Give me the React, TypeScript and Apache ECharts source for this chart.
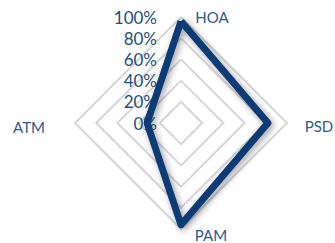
import React, { useEffect, useRef } from "react";
import * as echarts from "echarts";

const indicators = ["HOA", "ATM", "PAM", "PSD"];
const values = [96, 32, 96, 82];
const maxValue = 100;
const tickInterval = 20;

export default function App() {
  const ref = useRef<HTMLDivElement>(null);
  useEffect(() => {
    document.body.style.margin = "0";
    if (!ref.current) return;
    const chart = echarts.init(ref.current, null, { renderer: "svg" });
    const font = "Lato, 'Open Sans', sans-serif";
    chart.setOption({
      animation: false,
      radar: {
        center: [181, 123],
        radius: 106,
        shape: "polygon",
        startAngle: 90,
        splitNumber: maxValue / tickInterval,
        axisName: { show: false },
        axisLine: { show: false },
        axisTick: { show: false },
        splitArea: { show: false },
        splitLine: { lineStyle: { color: "#d6d6d6", width: 2 } },
        axisLabel: { show: false },
        indicator: indicators.map((name, i) => ({
          name,
          min: 0,
          max: maxValue,
          axisLabel:
            i === 0
              ? {
                  show: true,
                  margin: 24,
                  color: "#1f4e79",
                  fontSize: 17,
                  fontFamily: font,
                  formatter: "{value}%",
                }
              : { show: false },
        })),
      },
      series: [
        {
          type: "radar",
          symbol: "none",
          lineStyle: {
            color: "#083b76",
            width: 7,
            join: "round",
            shadowBlur: 7,
            shadowColor: "rgba(0,0,0,0.4)",
            shadowOffsetX: 2,
            shadowOffsetY: 2,
          },
          data: [{ value: values, name: "Series" }],
        },
      ],
      graphic: [
        { type: "text", x: 212, y: 17, style: { text: "HOA", fill: "#2c5a8c", font: `15px ${font}`, textAlign: "center", textVerticalAlign: "middle" } },
        { type: "text", x: 319, y: 126, style: { text: "PSD", fill: "#2c5a8c", font: `15px ${font}`, textAlign: "center", textVerticalAlign: "middle" } },
        { type: "text", x: 29, y: 127, style: { text: "ATM", fill: "#2c5a8c", font: `15px ${font}`, textAlign: "center", textVerticalAlign: "middle" } },
        { type: "text", x: 211, y: 235, style: { text: "PAM", fill: "#2c5a8c", font: `15px ${font}`, textAlign: "center", textVerticalAlign: "middle" } },
      ],
    });
    return () => chart.dispose();
  }, []);
  return <div ref={ref} style={{ width: 335, height: 243 }} />;
}
